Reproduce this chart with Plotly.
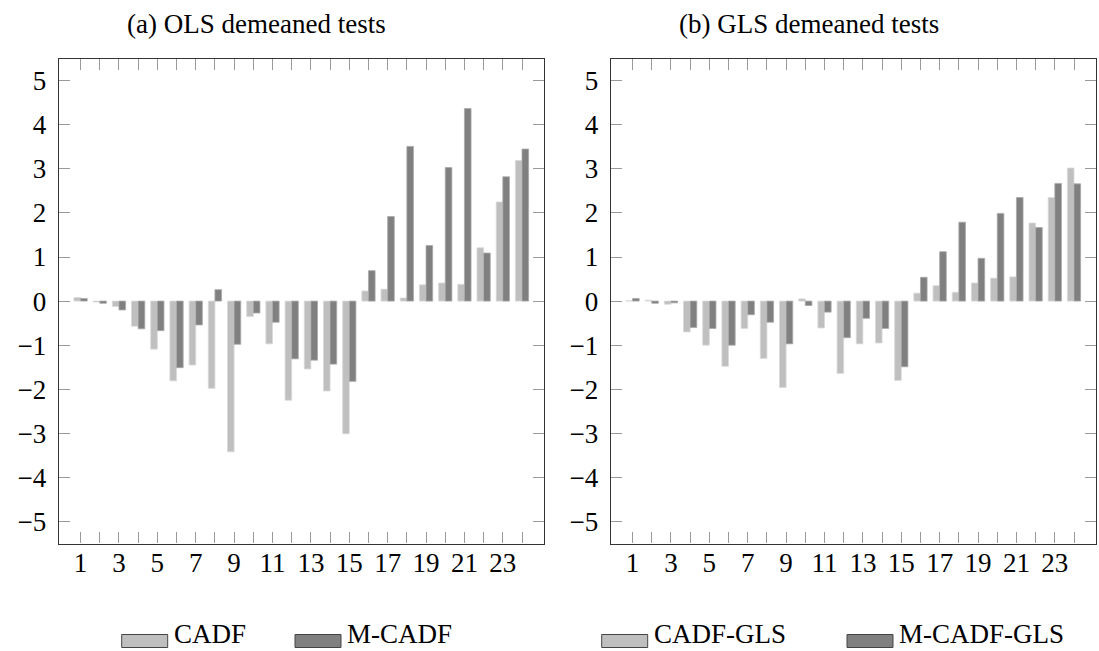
import plotly.graph_objects as go

# Cross-section index
units = list(range(1, 25))

# (a) OLS demeaned statistics
cadf = [0.08, -0.02, -0.12, -0.57, -1.09, -1.81, -1.45, -1.98, -3.42, -0.35, -0.97, -2.25,
        -1.54, -2.04, -3.01, 0.23, 0.27, 0.07, 0.37, 0.41, 0.38, 1.21, 2.25, 3.19]
m_cadf = [0.06, -0.05, -0.20, -0.63, -0.67, -1.51, -0.54, 0.26, -0.98, -0.27, -0.48, -1.31,
          -1.34, -1.43, -1.82, 0.69, 1.92, 3.51, 1.26, 3.03, 4.37, 1.09, 2.82, 3.45]

# (b) GLS demeaned statistics
cadf_gls = [0.01, 0.02, -0.07, -0.70, -1.00, -1.48, -0.62, -1.30, -1.96, 0.05, -0.61, -1.64,
            -0.97, -0.95, -1.80, 0.18, 0.35, 0.20, 0.41, 0.52, 0.55, 1.77, 2.35, 3.02]
m_cadf_gls = [0.06, -0.05, -0.04, -0.60, -0.62, -1.00, -0.31, -0.48, -0.97, -0.10, -0.25, -0.83,
              -0.39, -0.62, -1.49, 0.54, 1.12, 1.79, 0.97, 1.99, 2.35, 1.67, 2.67, 2.66]

y_ticks = list(range(-5, 6))
y_tick_text = [str(v).replace("-", "\u2212") for v in y_ticks]
x_tick_text = [str(v) if v % 2 == 1 else "" for v in units]

panel_titles = ["(a) OLS demeaned tests", "(b) GLS demeaned tests"]
legend_names = [["CADF", "M-CADF"], ["CADF-GLS", "M-CADF-GLS"]]

LIGHT, LIGHT_EDGE = "#bfbfbf", "#d9d9d9"
DARK, DARK_EDGE = "#808080", "#a8a8a8"
FONT = "Liberation Serif"

fig = go.Figure()
panels = [(cadf, m_cadf, "x", "y"), (cadf_gls, m_cadf_gls, "x2", "y2")]
for (a, b, xa, ya), names in zip(panels, legend_names):
    fig.add_trace(go.Bar(x=units, y=a, name=names[0], xaxis=xa, yaxis=ya, showlegend=False,
                         marker=dict(color=LIGHT, line=dict(color=LIGHT_EDGE, width=0.8))))
    fig.add_trace(go.Bar(x=units, y=b, name=names[1], xaxis=xa, yaxis=ya, showlegend=False,
                         marker=dict(color=DARK, line=dict(color=DARK_EDGE, width=0.8))))

W, H = 1099, 651
dom_x = [[58.7 / W, 543.7 / W], [610.7 / W, 1095.7 / W]]
dom_y = [1 - 543.5 / H, 1 - 58.7 / H]

common_x = dict(range=[-0.14, 25.13], tickmode="array", tickvals=units, ticktext=x_tick_text,
                ticks="inside", ticklen=11, tickcolor="#9a9a9a", tickwidth=1,
                showline=True, linecolor="#333333", linewidth=1.3, mirror="ticks",
                showgrid=False, zeroline=False, automargin=False, ticklabelstandoff=-5,
                tickfont=dict(family=FONT, size=27, color="black"))
common_y = dict(range=[-5.5, 5.5], tickmode="array", tickvals=y_ticks, ticktext=y_tick_text,
                ticks="inside", ticklen=11, tickcolor="#9a9a9a", tickwidth=1,
                showline=True, linecolor="#333333", linewidth=1.3, mirror="ticks",
                showgrid=False, zeroline=False, automargin=False, ticklabelstandoff=6,
                tickfont=dict(family=FONT, size=27, color="black"), domain=dom_y)

fig.update_layout(
    width=W, height=H,
    margin=dict(l=0, r=0, t=0, b=0),
    paper_bgcolor="white", plot_bgcolor="white",
    barmode="group", bargap=0.31, bargroupgap=0,
    xaxis=dict(common_x, domain=dom_x[0], anchor="y"),
    yaxis=dict(common_y, anchor="x"),
    xaxis2=dict(common_x, domain=dom_x[1], anchor="y2"),
    yaxis2=dict(common_y, anchor="x2"),
)

# Panel captions
for i, title in enumerate(panel_titles):
    cx = dom_x[i][0] + 198 / W
    fig.add_annotation(text=title, x=cx, y=1 - 24 / H, xref="paper", yref="paper",
                       xanchor="center", yanchor="middle", showarrow=False,
                       font=dict(family=FONT, size=27, color="black"))

# Legends below each panel: wide swatch followed by the series name
legend_rows = [
    [(LIGHT, 121.7, legend_names[0][0]), (DARK, 295.0, legend_names[0][1])],
    [(LIGHT, 601.7, legend_names[1][0]), (DARK, 847.0, legend_names[1][1])],
]
ly = 641
for row in legend_rows:
    for color, x0, label in row:
        fig.add_shape(type="rect", xref="paper", yref="paper",
                      x0=x0 / W, x1=(x0 + 46) / W, y0=1 - (ly + 6.5) / H, y1=1 - (ly - 6.5) / H,
                      fillcolor=color, line=dict(color="#444444", width=1))
        fig.add_annotation(text=label, x=(x0 + 50) / W, y=1 - 634 / H, xref="paper", yref="paper",
                           xanchor="left", yanchor="middle", showarrow=False,
                           font=dict(family=FONT, size=27, color="black"))

fig.write_html("out.html")
